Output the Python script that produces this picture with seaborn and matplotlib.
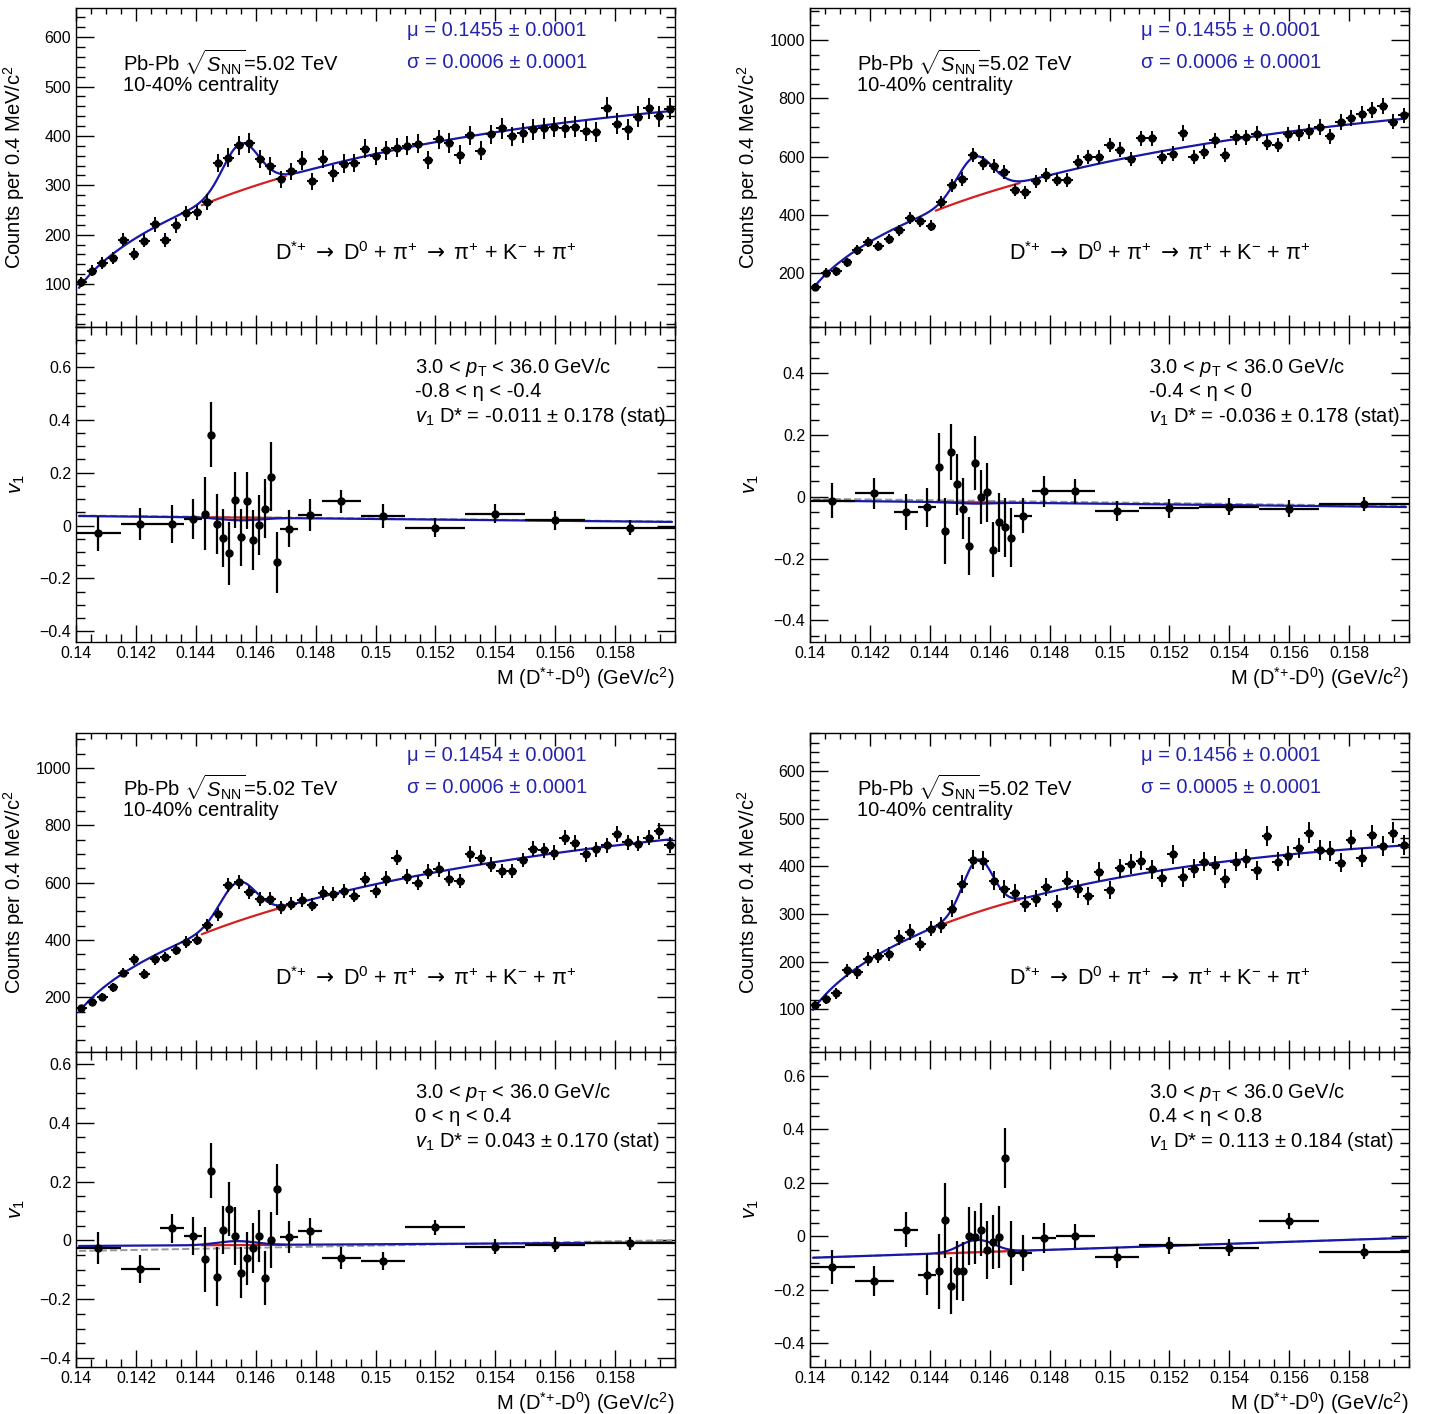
import numpy as np
import matplotlib
matplotlib.use("Agg")
import matplotlib.pyplot as plt
from matplotlib.ticker import MultipleLocator, FixedLocator, FuncFormatter
import seaborn as sns

sns.set_theme(style="ticks")
plt.rcParams['font.family'] = ['Liberation Sans', 'DejaVu Sans']
plt.rcParams['mathtext.fontset'] = 'custom'
plt.rcParams['mathtext.rm'] = 'Liberation Sans'
plt.rcParams['mathtext.it'] = 'Liberation Sans:italic'
plt.rcParams['mathtext.bf'] = 'Liberation Sans:bold'
plt.rcParams['mathtext.sf'] = 'DejaVu Sans'

# --- invariant mass histogram (57 bins between 0.14 and 0.16) ---
mass_edges = np.linspace(0.14, 0.16, 58)

counts_m08_m04 = [105, 127, 143, 152, 190, 161, 188, 221, 189, 219, 243, 245, 266, 345, 356,
                  381, 386, 353, 339, 312, 328, 350, 308, 353, 324, 344, 345, 374, 359, 371,
                  376, 380, 384, 351, 393, 386, 362, 401, 370, 403, 415, 399, 406, 413, 415,
                  418, 417, 419, 410, 408, 457, 425, 413, 439, 456, 440, 455]
counts_m04_0 = [152, 202, 206, 237, 280, 307, 294, 317, 347, 390, 378, 363, 443, 501, 523,
                606, 578, 569, 546, 485, 477, 515, 536, 521, 520, 580, 598, 598, 640, 624,
                592, 663, 663, 599, 610, 681, 599, 615, 656, 605, 667, 667, 678, 647, 640,
                676, 681, 687, 701, 670, 718, 733, 745, 759, 773, 720, 741]
counts_0_04 = [162, 185, 200, 235, 286, 332, 281, 332, 341, 366, 393, 401, 453, 489, 592,
               603, 566, 543, 544, 514, 526, 539, 523, 563, 560, 570, 555, 611, 569, 614,
               687, 621, 600, 638, 646, 614, 606, 700, 687, 662, 640, 640, 679, 719, 713,
               704, 757, 738, 699, 716, 730, 771, 740, 736, 757, 780, 732]
counts_04_08 = [109, 121, 133, 182, 177, 205, 212, 215, 250, 262, 237, 269, 276, 311, 363,
                414, 412, 370, 352, 344, 321, 332, 356, 321, 370, 353, 338, 389, 350, 396,
                405, 412, 394, 375, 425, 377, 395, 410, 402, 374, 410, 416, 392, 464, 410,
                422, 438, 471, 434, 432, 408, 455, 418, 465, 443, 471, 445]

# --- v1 vs mass (variable bins) ---
v1_edges = [0.1400, 0.1415, 0.1428, 0.1436, 0.1442, 0.1444, 0.1446, 0.1448, 0.1450,
            0.1452, 0.1454, 0.1456, 0.1458, 0.1460, 0.1462, 0.1464, 0.1466, 0.1468,
            0.1474, 0.1482, 0.1495, 0.1510, 0.1530, 0.1550, 0.1570, 0.1600]

v1_m08_m04 = [-0.030, 0.005, 0.005, 0.024, 0.045, 0.343, 0.005, -0.048, -0.105, 0.097, -0.044,
              0.094, -0.055, 0.001, 0.064, 0.184, -0.139, -0.012, 0.040, 0.091, 0.036, -0.008,
              0.045, 0.020, -0.008]
v1err_m08_m04 = [0.067, 0.060, 0.072, 0.075, 0.138, 0.122, 0.113, 0.110, 0.119, 0.107, 0.107,
                 0.107, 0.113, 0.113, 0.110, 0.130, 0.116, 0.069, 0.061, 0.045, 0.046, 0.036,
                 0.036, 0.036, 0.028]
v1_m04_0 = [-0.012, 0.011, -0.050, -0.034, 0.096, -0.111, 0.146, 0.041, -0.039, -0.159, 0.110,
            0.000, 0.015, -0.171, -0.082, -0.099, -0.132, -0.061, 0.018, 0.018, -0.045, -0.037,
            -0.032, -0.038, -0.022]
v1err_m04_0 = [0.056, 0.050, 0.058, 0.063, 0.110, 0.106, 0.091, 0.099, 0.099, 0.095, 0.088,
               0.087, 0.095, 0.088, 0.095, 0.095, 0.096, 0.057, 0.050, 0.040, 0.032, 0.031,
               0.027, 0.028, 0.023]
v1_0_04 = [-0.025, -0.096, 0.041, 0.016, -0.064, 0.237, -0.123, 0.035, 0.106, 0.016, -0.110,
           -0.061, -0.026, 0.016, -0.127, 0.001, 0.173, 0.012, 0.032, -0.059, -0.070, 0.045,
           -0.021, -0.015, -0.010]
v1err_0_04 = [0.055, 0.047, 0.050, 0.064, 0.111, 0.093, 0.100, 0.081, 0.092, 0.099, 0.086,
              0.090, 0.086, 0.089, 0.092, 0.094, 0.088, 0.054, 0.044, 0.038, 0.031, 0.025,
              0.025, 0.025, 0.021]
v1_04_08 = [-0.115, -0.169, 0.025, -0.144, -0.131, 0.059, -0.185, -0.129, -0.131, 0.000, -0.004,
            0.025, -0.052, -0.022, -0.004, 0.294, -0.063, -0.063, -0.006, 0.000, -0.079, -0.034,
            -0.043, 0.056, -0.059]
v1err_04_08 = [0.065, 0.056, 0.067, 0.076, 0.140, 0.140, 0.107, 0.110, 0.110, 0.108, 0.100,
               0.100, 0.110, 0.100, 0.117, 0.112, 0.119, 0.066, 0.057, 0.044, 0.040, 0.031,
               0.033, 0.030, 0.028]

# --- fit results ---
eta_labels = ["-0.8 < η < -0.4", "-0.4 < η < 0", "0 < η < 0.4", "0.4 < η < 0.8"]
fit_mu = [0.1455, 0.1455, 0.1454, 0.1456]
fit_sigma = [0.0006, 0.0006, 0.0006, 0.0005]
fit_mu_txt = ["0.1455", "0.1455", "0.1454", "0.1456"]
fit_sigma_txt = ["0.0006", "0.0006", "0.0006", "0.0005"]
sig_amp = [95, 137, 136, 110]
bkg_ref = [318, 509, 517, 330]      # background at M = 0.147
bkg_slope = [-12, -11, -10, -16]
v1_sig = [-0.011, -0.036, 0.043, 0.113]
v1_sig_err = ["0.178", "0.178", "0.170", "0.184"]
v1_bkg_lo = [0.036, -0.012, -0.019, -0.081]   # at M = 0.14
v1_bkg_hi = [0.0135, -0.033, -0.007, -0.006]  # at M = 0.16
v1_alt_lo = [0.038, -0.006, -0.036, -0.081]
v1_alt_hi = [0.015, -0.030, 0.001, -0.006]

counts_all = [counts_m08_m04, counts_m04_0, counts_0_04, counts_04_08]
v1_all = [v1_m08_m04, v1_m04_0, v1_0_04, v1_04_08]
v1err_all = [v1err_m08_m04, v1err_m04_0, v1err_0_04, v1err_04_08]

up_ylim = [(13, 659), (15, 1110), (9, 1122), (10, 680)]
up_major = [100, 200, 200, 100]
up_minor = [20, 50, 50, 20]
lo_ylim = [(-0.44, 0.75), (-0.47, 0.55), (-0.43, 0.64), (-0.49, 0.69)]

BLUE = '#1717a8'
TXT_BLUE = '#2424b0'
RED = '#d42020'
M_PI = 0.13957


def bkg_fn(x, i):
    d = x - M_PI
    dref = 0.147 - M_PI
    return bkg_ref[i] * np.sqrt(d / dref) * np.exp(bkg_slope[i] * (d - dref))


def sig_fn(x, i):
    return sig_amp[i] * np.exp(-0.5 * ((x - fit_mu[i]) / fit_sigma[i]) ** 2)


def lin(x, lo, hi):
    return lo + (hi - lo) * (x - 0.14) / 0.02


def fmt_y(v, _):
    if abs(v) < 1e-9:
        return "0"
    return f"{v:g}".replace("-", "\u2212")


def style_axis(ax, xmaj_len, ymaj_len):
    ax.tick_params(which='both', direction='in', top=True, right=True, width=1, color='black')
    ax.tick_params(axis='x', which='major', length=xmaj_len)
    ax.tick_params(axis='x', which='minor', length=xmaj_len / 2)
    ax.tick_params(axis='y', which='major', length=ymaj_len)
    ax.tick_params(axis='y', which='minor', length=ymaj_len / 2)
    ax.tick_params(labelsize=11.5, labelcolor='black')
    ax.xaxis.set_major_locator(FixedLocator(np.arange(0.14, 0.1585, 0.002)))
    ax.xaxis.set_minor_locator(MultipleLocator(0.0005))
    ax.xaxis.set_major_formatter(FuncFormatter(lambda v, _: f"{v:g}"))
    ax.yaxis.set_major_formatter(FuncFormatter(fmt_y))
    for s in ax.spines.values():
        s.set_color('black')
        s.set_linewidth(1.0)
    ax.set_xlim(0.14, 0.16)


fig = plt.figure(figsize=(14.3, 14.14), dpi=100)
W, H = 1430, 1414
panel_left = [76, 810, 76, 810]
panel_top = [8, 8, 733, 733]
ax_w, up_h, lo_h = 599, 319, 315

mass_c = (mass_edges[:-1] + mass_edges[1:]) / 2
mass_hw = (mass_edges[1:] - mass_edges[:-1]) / 2
ve = np.array(v1_edges)
v1_c = (ve[:-1] + ve[1:]) / 2
v1_hw = (ve[1:] - ve[:-1]) / 2
xf = np.linspace(0.1401, 0.1599, 400)
xr = np.linspace(0.1442, 0.1470, 60)

arrow = r"$\mathsf{\rightarrow}$"
dstar = r"D$^{{*}{+}}$"
decay_txt = (dstar + " " + arrow + " D$^{0}$ + π$^{+}$ " + arrow
             + " π$^{+}$ + K$^{-}$ + π$^{+}$")

for i in range(4):
    x0 = panel_left[i] / W
    y_up = 1 - (panel_top[i] + up_h) / H
    y_lo = 1 - (panel_top[i] + up_h + lo_h) / H
    ax_u = fig.add_axes([x0, y_up, ax_w / W, up_h / H])
    ax_l = fig.add_axes([x0, y_lo, ax_w / W, lo_h / H])

    # upper: invariant mass
    counts = np.array(counts_all[i], dtype=float)
    sns.lineplot(x=xr, y=bkg_fn(xr, i), ax=ax_u, color=RED, lw=1.6, estimator=None, legend=False)
    sns.lineplot(x=xf, y=bkg_fn(xf, i) + sig_fn(xf, i), ax=ax_u, color=BLUE, lw=1.6,
                 estimator=None, legend=False)
    ax_u.errorbar(mass_c, counts, yerr=np.sqrt(counts), xerr=mass_hw, fmt='o', color='black',
                  ms=5, elinewidth=1.4, capsize=0, zorder=5)
    style_axis(ax_u, 9, 13)
    ax_u.set_ylim(*up_ylim[i])
    ax_u.yaxis.set_major_locator(MultipleLocator(up_major[i]))
    ax_u.yaxis.set_minor_locator(MultipleLocator(up_minor[i]))
    ax_u.tick_params(axis='x', labelbottom=False)
    ax_u.set_ylabel("Counts per 0.4 MeV/c$^{2}$", fontsize=14.5, color='black')
    ax_u.yaxis.set_label_coords(-0.081, 0.5)

    ax_u.text(0.0785, 0.83, r"Pb-Pb $\sqrt{S_{\rm NN}}$=5.02 TeV", transform=ax_u.transAxes,
              fontsize=14.5, va='center', ha='left', color='black')
    ax_u.text(0.0785, 0.758, "10-40% centrality", transform=ax_u.transAxes,
              fontsize=14.5, va='center', ha='left', color='black')
    ax_u.text(0.553, 0.928, f"μ = {fit_mu_txt[i]} ± 0.0001", transform=ax_u.transAxes,
              fontsize=14.5, va='center', ha='left', color=TXT_BLUE)
    ax_u.text(0.553, 0.828, f"σ = {fit_sigma_txt[i]} ± 0.0001", transform=ax_u.transAxes,
              fontsize=14.5, va='center', ha='left', color=TXT_BLUE)
    ax_u.text(0.332, 0.229, decay_txt, transform=ax_u.transAxes, fontsize=15.5,
              va='center', ha='left', color='black')

    # lower: v1 vs mass
    sns.lineplot(x=xf, y=lin(xf, v1_alt_lo[i], v1_alt_hi[i]), ax=ax_l, color='#999999', lw=1.4,
                 linestyle='--', estimator=None, legend=False)
    sns.lineplot(x=xr, y=lin(xr, v1_bkg_lo[i], v1_bkg_hi[i]), ax=ax_l, color=RED, lw=1.6,
                 estimator=None, legend=False)
    frac = sig_fn(xf, i) / (sig_fn(xf, i) + bkg_fn(xf, i))
    v1_tot = frac * v1_sig[i] + (1 - frac) * lin(xf, v1_bkg_lo[i], v1_bkg_hi[i])
    sns.lineplot(x=xf, y=v1_tot, ax=ax_l, color=BLUE, lw=1.6, estimator=None, legend=False)
    ax_l.errorbar(v1_c, v1_all[i], yerr=v1err_all[i], xerr=v1_hw, fmt='o', color='black',
                  ms=5, elinewidth=1.6, capsize=0, zorder=5)
    style_axis(ax_l, 12, 13)
    ax_l.set_ylim(*lo_ylim[i])
    ax_l.yaxis.set_major_locator(MultipleLocator(0.2))
    ax_l.yaxis.set_minor_locator(MultipleLocator(0.05))
    ax_l.tick_params(axis='x', pad=3)
    ax_l.set_ylabel(r"$v_{1}$", fontsize=15, color='black')
    ax_l.yaxis.set_label_coords(-0.081, 0.5)
    ax_l.set_xlabel("M (" + dstar + "-D$^{0}$) (GeV/c$^{2}$)", fontsize=14.5, color='black',
                    loc='right')
    ax_l.xaxis.set_label_coords(1.0, -0.072)

    ax_l.text(0.566, 0.87, r"3.0 < $p_{\rm T}$ < 36.0 GeV/c", transform=ax_l.transAxes,
              fontsize=14.5, va='center', ha='left', color='black')
    ax_l.text(0.566, 0.794, eta_labels[i], transform=ax_l.transAxes,
              fontsize=14.5, va='center', ha='left', color='black')
    ax_l.text(0.566, 0.717, rf"$v_{{1}}$ D* = {v1_sig[i]:.3f} ± {v1_sig_err[i]} (stat)",
              transform=ax_l.transAxes, fontsize=14.5, va='center', ha='left', color='black')

fig.savefig("out.png", dpi=100, facecolor='white')
